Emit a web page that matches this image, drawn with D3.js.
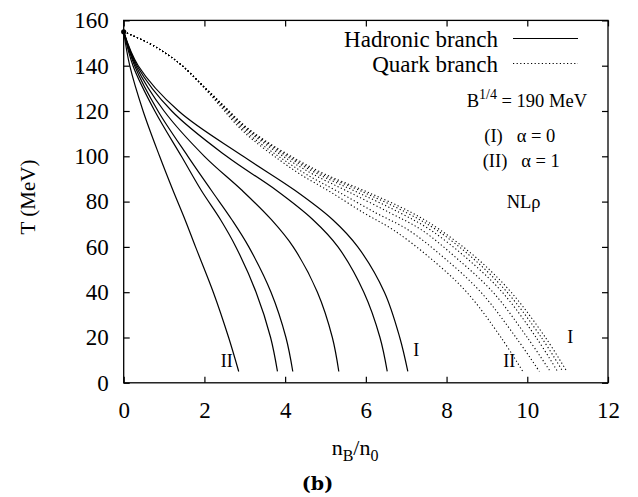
<!DOCTYPE html>
<html>
<head>
<meta charset="utf-8">
<script src="https://cdn.jsdelivr.net/npm/d3@7"></script>
<style>
  body { margin: 0; background: #fff; }
</style>
</head>
<body>
<svg id="chart" width="638" height="497"></svg>
<script>
// temperature levels (MeV) at which the hadronic curves were read
var hadronT = [155, 140, 120, 100, 85, 72, 60, 40, 20, 5];
// n_B/n_0 of each hadronic curve, from (II) alpha=1 on the left to (I) alpha=0 on the right
var hadronN = [
  [0, 0.15, 0.48, 0.89, 1.22, 1.52, 1.78, 2.22, 2.60, 2.85],
  [0, 0.23, 0.77, 1.43, 1.92, 2.40, 2.78, 3.28, 3.64, 3.81],
  [0, 0.27, 0.85, 1.59, 2.17, 2.68, 3.10, 3.65, 4.02, 4.19],
  [0, 0.30, 1.00, 2.00, 2.93, 3.66, 4.20, 4.80, 5.17, 5.33],
  [0, 0.33, 1.19, 2.55, 3.78, 4.69, 5.31, 5.95, 6.35, 6.53],
  [0, 0.36, 1.36, 2.96, 4.24, 5.18, 5.80, 6.46, 6.84, 7.04]
];

// temperature levels (MeV) at which the quark curves were read
var quarkT = [155, 150, 145, 140, 131, 122, 113.5, 107, 98.5, 92, 84.5, 75, 67.5, 55, 40, 20, 5];
var quarkN = [
  [0, 0.62, 1.08, 1.45, 1.95, 2.40, 2.82, 3.22, 3.85, 4.38, 5.10, 5.95, 6.68, 7.60, 8.50, 9.35, 9.89],
  [0, 0.62, 1.08, 1.45, 1.96, 2.44, 2.87, 3.29, 3.96, 4.53, 5.30, 6.25, 7.05, 7.95, 8.85, 9.72, 10.30],
  [0, 0.62, 1.08, 1.45, 1.97, 2.46, 2.92, 3.38, 4.08, 4.70, 5.55, 6.60, 7.38, 8.25, 9.15, 10.00, 10.57],
  [0, 0.62, 1.08, 1.45, 1.97, 2.48, 2.95, 3.43, 4.18, 4.83, 5.75, 6.85, 7.60, 8.50, 9.38, 10.22, 10.75],
  [0, 0.62, 1.08, 1.45, 1.98, 2.49, 2.98, 3.47, 4.24, 4.92, 5.90, 7.02, 7.75, 8.65, 9.50, 10.35, 10.88],
  [0, 0.62, 1.08, 1.45, 1.98, 2.50, 3.00, 3.50, 4.30, 5.00, 6.00, 7.15, 7.84, 8.75, 9.60, 10.45, 10.98]
];

// common starting point of all curves
var startPoint = [0, 155];

var xTicks = [0, 2, 4, 6, 8, 10, 12];
var yTicks = [0, 20, 40, 60, 80, 100, 120, 140, 160];

var FONT = "'Liberation Serif', 'Times New Roman', Times, serif";

var svg = d3.select("#chart").style("font-family", FONT);

var x = d3.scaleLinear().domain([0, 12]).range([123.7, 608]);
var y = d3.scaleLinear().domain([0, 160]).range([382.8, 20.4]);

// small helper so every label gets the serif face inline
function label(px, py, size, str) {
  return svg.append("text")
    .attr("x", px).attr("y", py)
    .style("font-family", FONT)
    .style("font-size", size + "px")
    .attr("fill", "#000")
    .text(str || null);
}

// axes, gnuplot style: ticks pointing inward on all four sides
function styleAxis(g) {
  g.attr("font-family", null).attr("font-size", null);
  g.select(".domain").remove();
  g.selectAll(".tick line").attr("stroke", "#000").attr("stroke-width", 1.2);
  g.selectAll(".tick text")
    .style("font-family", FONT)
    .style("font-size", "23px")
    .attr("fill", "#000");
}

svg.append("g")
  .attr("transform", "translate(0," + y(0) + ")")
  .call(d3.axisBottom(x).tickValues(xTicks).tickSize(-6).tickPadding(19).tickFormat(d3.format("d")))
  .call(styleAxis);

svg.append("g")
  .attr("transform", "translate(0," + y(160) + ")")
  .call(d3.axisTop(x).tickValues(xTicks).tickSize(-6).tickFormat(""))
  .call(styleAxis);

svg.append("g")
  .attr("transform", "translate(" + x(0) + ",0)")
  .call(d3.axisLeft(y).tickValues(yTicks).tickSize(-6).tickPadding(15).tickFormat(d3.format("d")))
  .call(styleAxis);

svg.append("g")
  .attr("transform", "translate(" + x(12) + ",0)")
  .call(d3.axisRight(y).tickValues(yTicks).tickSize(-6).tickFormat(""))
  .call(styleAxis);

// frame
svg.append("rect")
  .attr("x", x(0)).attr("y", y(160))
  .attr("width", x(12) - x(0)).attr("height", y(0) - y(160))
  .attr("fill", "none").attr("stroke", "#000").attr("stroke-width", 1.3);

var line = d3.line()
  .x(function(d) { return x(d[0]); })
  .y(function(d) { return y(d[1]); })
  .curve(d3.curveCatmullRom.alpha(0.5));

// hadronic branch (solid)
hadronN.forEach(function(ns) {
  var pts = ns.map(function(n, i) { return [n, hadronT[i]]; });
  svg.append("path")
    .attr("d", line(pts))
    .attr("fill", "none")
    .attr("stroke", "#000")
    .attr("stroke-width", 1.2);
});

// quark branch (dotted)
quarkN.forEach(function(ns) {
  var pts = ns.map(function(n, i) { return [n, quarkT[i]]; });
  svg.append("path")
    .attr("d", line(pts))
    .attr("fill", "none")
    .attr("stroke", "#000")
    .attr("stroke-width", 1.1)
    .attr("stroke-dasharray", "1.2,2.4");
});

svg.append("circle")
  .attr("cx", x(startPoint[0])).attr("cy", y(startPoint[1]))
  .attr("r", 2.6).attr("fill", "#000");

// legend
label(498, 46.7, 23, "Hadronic branch").attr("text-anchor", "end");
svg.append("line").attr("x1", 513).attr("x2", 578).attr("y1", 38.5).attr("y2", 38.5)
  .attr("stroke", "#000").attr("stroke-width", 1.2);
label(498, 71.5, 23, "Quark branch").attr("text-anchor", "end");
svg.append("line").attr("x1", 513).attr("x2", 578).attr("y1", 63.5).attr("y2", 63.5)
  .attr("stroke", "#000").attr("stroke-width", 1.1).attr("stroke-dasharray", "1.2,2.4");

// annotations
var bText = label(466.7, 107.3, 18.5);
bText.append("tspan").text("B");
bText.append("tspan").attr("dy", -8).style("font-size", "14px").text("1/4");
bText.append("tspan").attr("dy", 8).text(" = 190 MeV");

label(484.3, 141.7, 18.5, "(I)   \u03b1 = 0").attr("xml:space", "preserve");
label(482.7, 166.7, 18.5, "(II)   \u03b1 = 1").attr("xml:space", "preserve");
label(506.7, 208.3, 18.5, "NL\u03c1");

// curve labels
label(220.7, 366.7, 18, "II");
label(413.3, 355.7, 18, "I");
label(503.3, 366.7, 18, "II");
label(567.3, 343.3, 18, "I");

// axis titles
label(0, 0, 21, "T (MeV)")
  .attr("x", null).attr("y", null)
  .attr("transform", "translate(35,197) rotate(-90)")
  .attr("text-anchor", "middle");

var xt = label(331.7, 455, 22);
xt.append("tspan").text("n");
xt.append("tspan").attr("dy", 6).style("font-size", "16px").text("B");
xt.append("tspan").attr("dy", -6).text("/n");
xt.append("tspan").attr("dy", 6).style("font-size", "16px").text("0");

label(317.5, 490, 19, "(b)")
  .attr("text-anchor", "middle")
  .style("font-family", "'DejaVu Serif', serif")
  .style("font-weight", "bold");
</script>
</body>
</html>
